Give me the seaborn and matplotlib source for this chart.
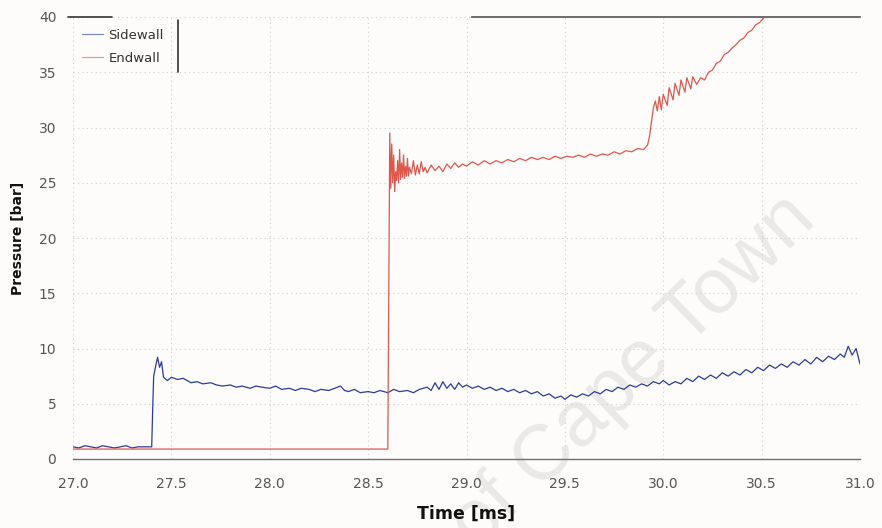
import matplotlib
matplotlib.use("Agg")
import matplotlib.pyplot as plt
import seaborn as sns
import pandas as pd

# Sidewall transducer trace (time in ms, pressure in bar)
sidewall_t = [
    27.00, 27.03, 27.06, 27.09, 27.12, 27.15, 27.18, 27.21, 27.24, 27.27,
    27.30, 27.33, 27.36, 27.40, 27.405, 27.41, 27.42, 27.43, 27.44, 27.45,
    27.46, 27.48, 27.50, 27.53, 27.56, 27.60, 27.63, 27.66, 27.70, 27.73,
    27.76, 27.80, 27.83, 27.86, 27.90, 27.93, 27.96, 28.00, 28.03, 28.06,
    28.10, 28.13, 28.16, 28.20, 28.23, 28.26, 28.30, 28.33, 28.36, 28.38,
    28.40, 28.43, 28.46, 28.50, 28.53, 28.56, 28.60, 28.63, 28.66, 28.70,
    28.73, 28.76, 28.80, 28.82, 28.84, 28.86, 28.88, 28.90, 28.92, 28.94,
    28.96, 28.98, 29.00, 29.03, 29.06, 29.09, 29.12, 29.15, 29.18, 29.21,
    29.24, 29.27, 29.30, 29.33, 29.36, 29.39, 29.42, 29.45, 29.48, 29.50,
    29.53, 29.56, 29.59, 29.62, 29.65, 29.68, 29.71, 29.74, 29.77, 29.80,
    29.83, 29.86, 29.89, 29.92, 29.95, 29.98, 30.00, 30.03, 30.06, 30.09,
    30.12, 30.15, 30.18, 30.21, 30.24, 30.27, 30.30, 30.33, 30.36, 30.39,
    30.42, 30.45, 30.48, 30.51, 30.54, 30.57, 30.60, 30.63, 30.66, 30.69,
    30.72, 30.75, 30.78, 30.81, 30.84, 30.87, 30.90, 30.92, 30.94, 30.96,
    30.98, 31.00,
]
sidewall_p = [
    1.1, 1.0, 1.2, 1.1, 1.0, 1.2, 1.1, 1.0, 1.1, 1.2,
    1.0, 1.1, 1.1, 1.1, 4.5, 7.5, 8.4, 9.2, 8.3, 8.8,
    7.4, 7.1, 7.4, 7.2, 7.3, 6.9, 7.0, 6.8, 6.9, 6.7,
    6.6, 6.7, 6.5, 6.6, 6.4, 6.6, 6.5, 6.4, 6.6, 6.3,
    6.4, 6.2, 6.4, 6.3, 6.1, 6.3, 6.2, 6.4, 6.6, 6.2,
    6.1, 6.3, 6.0, 6.1, 6.0, 6.2, 6.0, 6.3, 6.1, 6.2,
    6.0, 6.3, 6.5, 6.2, 6.9, 6.3, 7.0, 6.4, 6.8, 6.3,
    6.9, 6.5, 6.7, 6.4, 6.6, 6.3, 6.5, 6.2, 6.4, 6.1,
    6.3, 6.0, 6.2, 5.9, 6.1, 5.7, 5.9, 5.5, 5.7, 5.4,
    5.8, 5.6, 5.9, 5.7, 6.1, 5.9, 6.3, 6.1, 6.5, 6.3,
    6.7, 6.5, 6.8, 6.6, 7.0, 6.8, 7.1, 6.7, 7.0, 6.8,
    7.3, 7.0, 7.5, 7.2, 7.6, 7.3, 7.8, 7.5, 7.9, 7.6,
    8.1, 7.8, 8.3, 8.0, 8.5, 8.2, 8.6, 8.3, 8.8, 8.5,
    9.0, 8.6, 9.2, 8.8, 9.3, 9.0, 9.5, 9.2, 10.2, 9.4,
    10.0, 8.6,
]

# Endwall transducer trace (time in ms, pressure in bar)
endwall_t = [
    27.00, 27.40, 27.80, 28.20, 28.60, 28.605, 28.61, 28.615, 28.62, 28.625,
    28.63, 28.635, 28.64, 28.645, 28.65, 28.655, 28.66, 28.665, 28.67, 28.675,
    28.68, 28.685, 28.69, 28.695, 28.70, 28.705, 28.71, 28.72, 28.73, 28.74,
    28.75, 28.76, 28.77, 28.78, 28.79, 28.80, 28.82, 28.84, 28.86, 28.88,
    28.90, 28.92, 28.94, 28.96, 28.98, 29.00, 29.03, 29.06, 29.09, 29.12,
    29.15, 29.18, 29.21, 29.24, 29.27, 29.30, 29.33, 29.36, 29.39, 29.42,
    29.45, 29.48, 29.51, 29.54, 29.57, 29.60, 29.63, 29.66, 29.69, 29.72,
    29.75, 29.78, 29.81, 29.84, 29.87, 29.90, 29.92, 29.93, 29.94, 29.95,
    29.96, 29.97, 29.98, 29.99, 30.00, 30.02, 30.03, 30.05, 30.06, 30.08,
    30.09, 30.11, 30.12, 30.14, 30.15, 30.17, 30.19, 30.21, 30.23, 30.25,
    30.27, 30.29, 30.31, 30.33, 30.35, 30.37, 30.39, 30.41, 30.43, 30.45,
    30.47, 30.49, 30.51, 30.53, 30.56,
]
endwall_p = [
    0.9, 0.9, 0.9, 0.9, 0.9, 15.0, 29.5, 24.5, 28.5, 25.0,
    27.5, 24.2, 26.0, 25.2, 27.0, 25.0, 28.0, 25.3, 26.8, 25.5,
    27.5, 25.4, 26.5, 25.6, 27.2, 25.6, 26.4, 25.8, 27.0, 25.7,
    26.6, 25.8, 26.9, 26.0, 26.4, 25.9, 26.6, 26.1, 26.5, 26.0,
    26.7, 26.3, 26.8, 26.4, 26.7, 26.5, 26.9, 26.6, 27.0, 26.7,
    27.0, 26.8, 27.1, 26.9, 27.2, 27.0, 27.3, 27.1, 27.3, 27.1,
    27.4, 27.2, 27.4, 27.3, 27.5, 27.3, 27.6, 27.4, 27.6, 27.5,
    27.8, 27.6, 27.9, 27.8, 28.1, 28.0, 28.4, 29.2, 30.5, 31.8,
    32.4, 31.5, 32.8, 31.6, 33.0, 32.0, 33.6, 32.5, 34.0, 32.9,
    34.3, 33.2, 34.5, 33.5, 34.6, 33.9, 34.5, 34.3, 35.0, 35.2,
    35.8, 36.0, 36.6, 36.8, 37.2, 37.5, 37.9, 38.1, 38.6, 38.8,
    39.3, 39.5, 39.9, 40.3, 41.0,
]

series_names = ["Sidewall", "Endwall"]
series_colors = {"Sidewall": "#2c3c9c", "Endwall": "#e0564c"}
x_ticks = [27.0, 27.5, 28.0, 28.5, 29.0, 29.5, 30.0, 30.5, 31.0]
y_ticks = [0, 5, 10, 15, 20, 25, 30, 35, 40]

df = pd.concat([
    pd.DataFrame({"Time [ms]": sidewall_t, "Pressure [bar]": sidewall_p, "trace": "Sidewall"}),
    pd.DataFrame({"Time [ms]": endwall_t, "Pressure [bar]": endwall_p, "trace": "Endwall"}),
], ignore_index=True)

sns.set_theme(style="white")
plt.rcParams["font.family"] = ["DejaVu Sans"]

bg = "#fdfcfa"
fig = plt.figure(figsize=(8.82, 5.28), dpi=100, facecolor=bg)
ax = fig.add_axes([73 / 882, 1 - 459 / 528, (860 - 73) / 882, (459 - 17) / 528])
ax.set_facecolor("none")

sns.lineplot(data=df, x="Time [ms]", y="Pressure [bar]", hue="trace",
             hue_order=series_names, palette=series_colors, sort=False,
             estimator=None, linewidth=0.9, ax=ax, legend=False)

ax.set_xlim(27.0, 31.0)
ax.set_ylim(0, 40)
ax.set_xticks(x_ticks)
ax.set_xticklabels([f"{v:.1f}" for v in x_ticks])
ax.set_yticks(y_ticks)
ax.set_yticklabels([str(v) for v in y_ticks])

ax.grid(True, linestyle=(0, (1, 3)), color="#cfcfcf", linewidth=0.8)
ax.tick_params(axis="both", colors="#777777", labelcolor="#555555",
               labelsize=10, length=4, width=0.8)
ax.tick_params(axis="x", direction="inout", length=6, pad=10)
ax.tick_params(axis="y", direction="out", pad=8)

for side in ["left", "right"]:
    ax.spines[side].set_visible(False)
ax.spines["bottom"].set_color("#707070")
ax.spines["bottom"].set_linewidth(1.0)
ax.spines["top"].set_color("#555555")
ax.spines["top"].set_linewidth(1.2)
ax.spines["top"].set_bounds(29.03, 31.0)

ax.set_xlabel("Time [ms]", fontsize=12.5, fontweight="bold", color="#111111", labelpad=10)
ax.set_ylabel("Pressure [bar]", fontsize=10, fontweight="bold", color="#111111", labelpad=10)

# Legend with its partial frame
handles = [plt.Line2D([], [], color=series_colors[n], linewidth=0.9, alpha=0.6) for n in series_names]
ax.legend(handles, series_names, loc="upper left", bbox_to_anchor=(0.005, 0.985),
          frameon=False, fontsize=9.5, handlelength=1.6, handletextpad=0.4,
          labelspacing=0.75, borderaxespad=0.0, labelcolor="#333333")
ax.plot([0.1334, 0.1334], [0.993, 0.876], transform=ax.transAxes, color="#333333",
        linewidth=1.2, clip_on=False)
ax.plot([-0.006, 0.0496], [1.0, 1.0], transform=ax.transAxes, color="#333333",
        linewidth=1.2, clip_on=False)

# Watermark behind the plot
fig.text(818 / 882, 1 - 222 / 528, "University of Cape Town", fontsize=56,
         family="Liberation Sans", color="#ebe9e7", rotation=44,
         rotation_mode="anchor", ha="right", va="baseline", zorder=-1)

fig.savefig("out.png", dpi=100, facecolor=bg)
